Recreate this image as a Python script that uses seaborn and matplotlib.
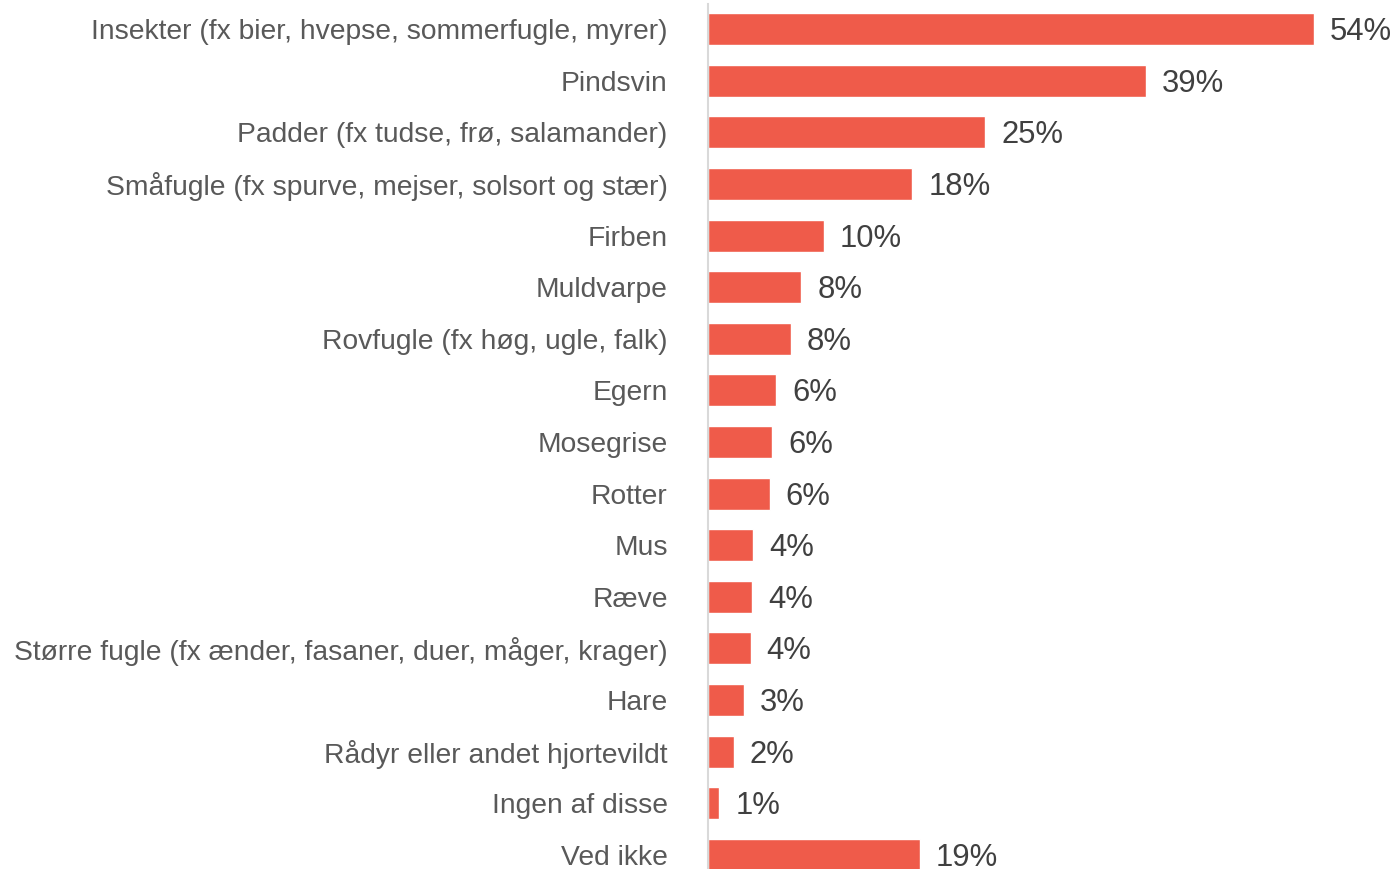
import matplotlib
matplotlib.use("Agg")
import matplotlib.pyplot as plt
import seaborn as sns
import pandas as pd

categories = [
    "Insekter (fx bier, hvepse, sommerfugle, myrer)",
    "Pindsvin",
    "Padder (fx tudse, frø, salamander)",
    "Småfugle (fx spurve, mejser, solsort og stær)",
    "Firben",
    "Muldvarpe",
    "Rovfugle (fx høg, ugle, falk)",
    "Egern",
    "Mosegrise",
    "Rotter",
    "Mus",
    "Ræve",
    "Større fugle (fx ænder, fasaner, duer, måger, krager)",
    "Hare",
    "Rådyr eller andet hjortevildt",
    "Ingen af disse",
    "Ved ikke",
]
values = [54.0, 39.0, 24.7, 18.2, 10.3, 8.3, 7.4, 6.1, 5.7, 5.5, 4.0, 3.9, 3.8, 3.2, 2.3, 1.0, 18.9]
value_labels = ["54%", "39%", "25%", "18%", "10%", "8%", "8%", "6%", "6%", "6%",
                "4%", "4%", "4%", "3%", "2%", "1%", "19%"]

sns.set_theme(style="white")
plt.rcParams["font.family"] = ["Liberation Sans", "DejaVu Sans"]

df = pd.DataFrame({"cat": categories, "val": values})

W, H = 1396, 869
fig = plt.figure(figsize=(W / 100, H / 100), dpi=100)
ax_left = 708 / W
ax_top_px = 4
ax_bot_px = 880
ax = fig.add_axes([ax_left, (H - ax_bot_px) / H, 1 - ax_left, (ax_bot_px - ax_top_px) / H])

sns.barplot(data=df, x="val", y="cat", orient="h", color="#EF5B4A",
            saturation=1, width=0.62, ax=ax)

ax.set_xlim(0, 61.3)
ax.set_ylim(16.485, -0.485)

for i, (v, lab) in enumerate(zip(values, value_labels)):
    ax.annotate(lab, xy=(v, i), xytext=(16, -3), textcoords="offset pixels",
                va="center", ha="left", fontsize=22.3, color="#404040")

ax.set_xlabel("")
ax.set_ylabel("")
ax.set_xticks([])
ax.tick_params(axis="y", length=0, pad=29, labelsize=20.3, labelcolor="#595959")
for s in ["top", "right", "bottom"]:
    ax.spines[s].set_visible(False)
ax.spines["left"].set_color("#D9D9D9")
ax.spines["left"].set_linewidth(1.5)

fig.savefig("out.png", dpi=100)
